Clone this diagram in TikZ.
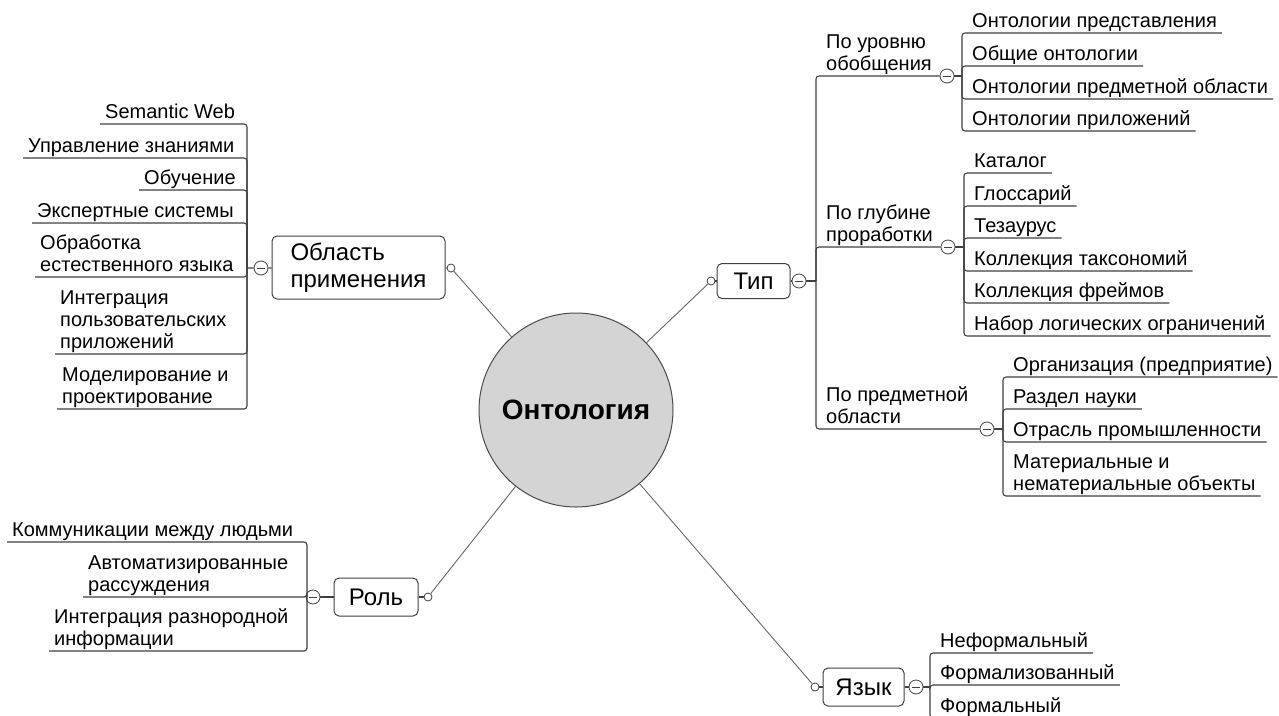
\documentclass[tikz,border=0pt]{standalone}
\usepackage{fontspec}
\setmainfont{Liberation Sans}
\tikzset{
  core/.style={circle,draw=black!70,fill=black!17,line width=1pt,minimum size=194pt,
               inner sep=0pt,font=\fontsize{28}{32}\selectfont\bfseries},
  topic/.style={draw=black!75,fill=white,rounded corners=5pt,line width=1pt,align=left,
                inner xsep=8pt,minimum height=37pt,font=\fontsize{24}{27}\selectfont},
  leaf/.style={anchor=south west,align=left,inner xsep=5pt,inner ysep=1pt,
               font=\fontsize{20}{22}\selectfont,
               execute at end node={\rule[-4pt]{0pt}{1pt}}},
  knob/.style={circle,draw=black!75,fill=white,line width=0.8pt,minimum size=8pt,inner sep=0pt},
  fold/.style={circle,draw=black!75,fill=white,line width=0.8pt,minimum size=14pt,inner sep=0pt,
               path picture={\draw[line width=1pt]
                 ([xshift=-4pt]path picture bounding box.center) --
                 ([xshift=4pt]path picture bounding box.center);}},
  twig/.style={draw=black!75,line width=1.1pt,rounded corners=3pt},
  spoke/.style={draw=black!60,line width=0.9pt}
}
\begin{document}
\begin{tikzpicture}[x=1pt,y=-1pt]
  % Page frame
  \clip (0,0) rectangle (1279,715);
  \fill[white] (0,0) rectangle (1279,715);

  % Central topic
  \node[core] (onto) at (576,410) {Онтология};

  % Main topics
  \node[topic,minimum width=173pt,minimum height=63pt] (obl) at (358.5,267.5) {Область\\применения};
  \node[topic,minimum width=73pt,minimum height=35pt] (tip) at (753.5,281) {Тип};
  \node[topic,minimum width=84pt,minimum height=38pt] (rol) at (376,597) {Роль};
  \node[topic,minimum width=81pt,minimum height=38pt] (yaz) at (863.5,687) {Язык};

  % Knobs, fold markers and junctions
  \node[knob] (oblK) at (451,268) {};
  \node[fold] (oblM) at (261,268) {};
  \coordinate (oblJ) at (247,268);
  \node[knob] (tipK) at (711,281) {};
  \node[fold] (tipM) at (799,281) {};
  \coordinate (tipJ) at (816,281);
  \node[knob] (rolK) at (428,597) {};
  \node[fold] (rolM) at (313,597) {};
  \coordinate (rolJ) at (307,597);
  \node[knob] (yazK) at (815,687) {};
  \node[fold] (yazM) at (916,687) {};
  \coordinate (yazJ) at (930,687);

  % Subtopics of "Тип"
  \node[leaf] (uro) at (821,76) {По уровню\\обобщения};
  \node[fold] (uroM) at (947,76) {};
  \coordinate (uroJ) at (962,76);
  \node[leaf] (glu) at (821,247) {По глубине\\проработки};
  \node[fold] (gluM) at (948,247) {};
  \coordinate (gluJ) at (964,247);
  \node[leaf] (pre) at (821,429) {По предметной\\области};
  \node[fold] (preM) at (987,429) {};
  \coordinate (preJ) at (1003,429);

  % Leaves
  \node[leaf] (u1) at (967,33)  {Онтологии представления};
  \node[leaf] (u2) at (967,66)  {Общие онтологии};
  \node[leaf] (u3) at (967,99)  {Онтологии предметной области};
  \node[leaf] (u4) at (967,131) {Онтологии приложений};

  \node[leaf] (g1) at (969,173) {Каталог};
  \node[leaf] (g2) at (969,206) {Глоссарий};
  \node[leaf] (g3) at (969,238) {Тезаурус};
  \node[leaf] (g4) at (969,271) {Коллекция таксономий};
  \node[leaf] (g5) at (969,303) {Коллекция фреймов};
  \node[leaf] (g6) at (969,336) {Набор логических ограничений};

  \node[leaf] (p1) at (1008,377) {Организация (предприятие)};
  \node[leaf] (p2) at (1008,409) {Раздел науки};
  \node[leaf] (p3) at (1008,442) {Отрасль промышленности};
  \node[leaf] (p4) at (1008,496) {Материальные и\\нематериальные объекты};

  \node[leaf] (y1) at (935,653) {Неформальный};
  \node[leaf] (y2) at (935,685) {Формализованный};
  \node[leaf] (y3) at (935,718) {Формальный};

  \node[leaf] (o1) at (100,124) {Semantic Web};
  \node[leaf] (o2) at (23,158)  {Управление знаниями};
  \node[leaf] (o3) at (139,190) {Обучение};
  \node[leaf] (o4) at (32,223)  {Экспертные системы};
  \node[leaf] (o5) at (35,277)  {Обработка\\естественного языка};
  \node[leaf] (o6) at (55,354)  {Интеграция\\пользовательских\\приложений};
  \node[leaf] (o7) at (57,409)  {Моделирование и\\проектирование};

  \node[leaf] (r1) at (7,542)  {Коммуникации между людьми};
  \node[leaf] (r2) at (83,597) {Автоматизированные\\рассуждения};
  \node[leaf] (r3) at (49,651) {Интеграция разнородной\\информации};

  % Spokes from the centre
  \draw[spoke] (onto) -- (oblK);
  \draw[spoke] (onto) -- (tipK);
  \draw[spoke] (onto) -- (rolK);
  \draw[spoke] (onto) -- (yazK);

  % Topic to fold marker
  \draw[twig] (obl) -- (oblK);
  \draw[twig] (obl) -- (oblM) -- (oblJ);
  \draw[twig] (tip) -- (tipK);
  \draw[twig] (tip) -- (tipM) -- (tipJ);
  \draw[twig] (rol) -- (rolK);
  \draw[twig] (rol) -- (rolM) -- (rolJ);
  \draw[twig] (yaz) -- (yazK);
  \draw[twig] (yaz) -- (yazM) -- (yazJ);
  \draw[twig] (uroM) -- (uroJ);
  \draw[twig] (gluM) -- (gluJ);
  \draw[twig] (preM) -- (preJ);

  % Underlines joined to the bars
  \foreach \n in {uroM,gluM,preM} \draw[twig] (\n.west) -| (tipJ);
  \foreach \n in {u1,u2,u3,u4} \draw[twig] (\n.south east) -| (uroJ);
  \foreach \n in {g1,g2,g3,g4,g5,g6} \draw[twig] (\n.south east) -| (gluJ);
  \foreach \n in {p1,p2,p3,p4} \draw[twig] (\n.south east) -| (preJ);
  \foreach \n in {y1,y2,y3} \draw[twig] (\n.south east) -| (yazJ);
  \foreach \n in {o1,o2,o3,o4,o5,o6,o7} \draw[twig] (\n.south west) -| (oblJ);
  \foreach \n in {r1,r2,r3} \draw[twig] (\n.south west) -| (rolJ);
\end{tikzpicture}
\end{document}
